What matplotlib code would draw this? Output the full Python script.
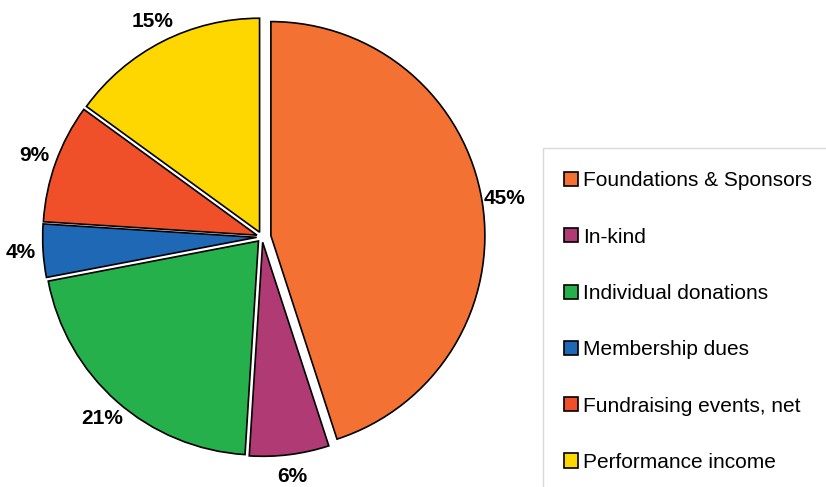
import matplotlib
matplotlib.use("Agg")
import matplotlib.pyplot as plt
from matplotlib.patches import Rectangle

labels = ['Foundations & Sponsors', 'In-kind', 'Individual donations',
          'Membership dues', 'Fundraising events, net', 'Performance income']
shares = [45, 6, 21, 4, 9, 15]
colors = ['#F37133', '#B03A73', '#26B04C', '#1F68B5', '#F05029', '#FFD700']
explode = [0.042, 0.025, 0.025, 0.025, 0.025, 0.025]

plt.rcParams['font.family'] = ['Liberation Sans', 'DejaVu Sans']

fig = plt.figure(figsize=(8.26, 4.87), dpi=100)
W, H = 826, 487
R = 214
cx, cy = 262, 237
lim = 1.25
size = 2 * lim * R
ax = fig.add_axes([(cx - size / 2) / W, (H - cy - size / 2) / H, size / W, size / H])

wedges, texts = ax.pie(shares, colors=colors, startangle=90, counterclock=False,
                       explode=explode, labels=[f'{s}%' for s in shares],
                       labeldistance=1.105,
                       wedgeprops=dict(edgecolor='black', linewidth=1.2),
                       textprops=dict(fontsize=15, fontweight='bold'))
for t in texts:
    t.set_ha('center')
    t.set_va('center')
ax.set_xlim(-lim, lim)
ax.set_ylim(-lim, lim)
ax.set_aspect('equal')

# legend box
fig.patches.append(Rectangle((543 / W, -0.05), 1.0, (H - 148) / H + 0.05,
                             transform=fig.transFigure, facecolor='white',
                             edgecolor='#d9d9d9', linewidth=1.0, zorder=0))

leg = fig.legend(wedges, labels, loc='upper left',
                 bbox_to_anchor=(556 / W, (H - 163) / H), frameon=False,
                 fontsize=15, handlelength=0.67, handleheight=0.67,
                 handletextpad=0.24, labelspacing=1.79, borderaxespad=0)

fig.savefig('out.png', dpi=100)
